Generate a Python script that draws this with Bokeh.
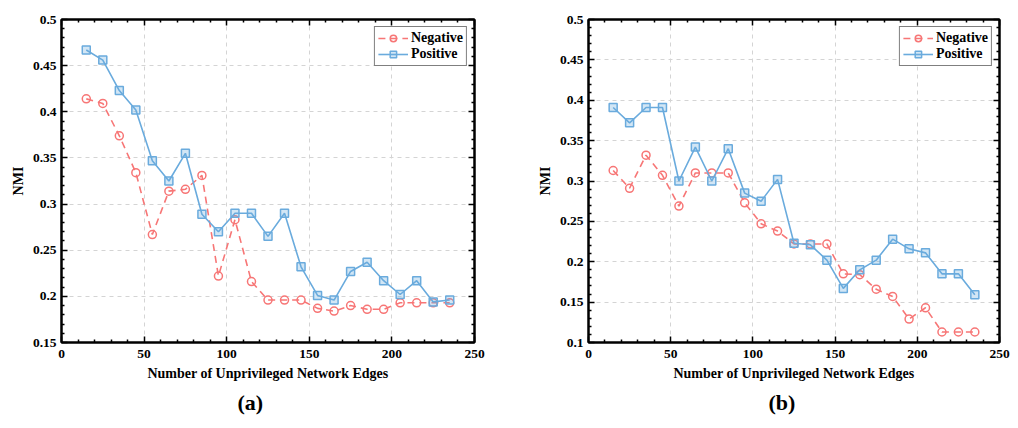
from bokeh.plotting import figure
from bokeh.layouts import row
from bokeh.models import (Range1d, FixedTicker, LinearAxis, CustomJSTickFormatter,
                          Legend, LegendItem, Title)
from bokeh.embed import file_html
from bokeh.resources import INLINE

edges = [15, 25, 35, 45, 55, 65, 75, 85, 95, 105, 115, 125, 135, 145, 155, 165,
         175, 185, 195, 205, 215, 225, 235]

neg_a = [0.414, 0.409, 0.374, 0.334, 0.267, 0.314, 0.316, 0.331, 0.222, 0.283, 0.216,
         0.196, 0.196, 0.196, 0.187, 0.184, 0.190, 0.186, 0.186, 0.193, 0.193, 0.193, 0.193]
pos_a = [0.467, 0.456, 0.423, 0.402, 0.347, 0.325, 0.355, 0.289, 0.270, 0.290, 0.290,
         0.265, 0.290, 0.232, 0.201, 0.196, 0.227, 0.237, 0.217, 0.202, 0.217, 0.194, 0.196]

neg_b = [0.313, 0.291, 0.332, 0.307, 0.269, 0.310, 0.310, 0.310, 0.273, 0.247, 0.238,
         0.222, 0.222, 0.222, 0.185, 0.184, 0.166, 0.157, 0.129, 0.143, 0.113, 0.113, 0.113]
pos_b = [0.391, 0.372, 0.391, 0.391, 0.300, 0.342, 0.300, 0.340, 0.285, 0.275, 0.302,
         0.223, 0.221, 0.202, 0.167, 0.190, 0.202, 0.228, 0.216, 0.211, 0.185, 0.185, 0.159]

x_ticks = [0, 50, 100, 150, 200, 250]
y_ticks_a = [0.15, 0.2, 0.25, 0.3, 0.35, 0.4, 0.45, 0.5]
y_ticks_b = [0.1, 0.15, 0.2, 0.25, 0.3, 0.35, 0.4, 0.45, 0.5]

NEG = "#F77676"
POS = "#6AABDD"
FONT = "'Liberation Serif', 'Times New Roman', 'DejaVu Serif', serif"


def make(neg, pos, yticks, caption, bl, br, bt, bb, width, cap_off):
    ymin, ymax = yticks[0], yticks[-1]
    p = figure(width=width, height=428, output_backend="svg", toolbar_location=None,
               x_range=Range1d(0, 250), y_range=Range1d(ymin, ymax),
               min_border_left=bl, min_border_right=br, min_border_top=bt,
               min_border_bottom=bb)
    p.background_fill_color = "white"
    p.border_fill_color = "white"
    p.outline_line_color = "black"
    p.outline_line_width = 2

    xminor = [v for v in range(0, 251, 10) if v % 50 != 0]
    ystep = 0.01
    n = int(round((ymax - ymin) / ystep))
    yminor = [round(ymin + i * ystep, 3) for i in range(n + 1)]
    yminor = [v for v in yminor if all(abs(v - t) > 1e-6 for t in yticks)]
    xt = FixedTicker(ticks=x_ticks, minor_ticks=xminor)
    yt = FixedTicker(ticks=yticks, minor_ticks=yminor)

    fmt = CustomJSTickFormatter(code="var s = tick.toFixed(2); if (s.endsWith('0')) { s = s.slice(0, -1); } if (s.endsWith('.0')) { s = s.slice(0, -2); } return s;")

    p.xaxis.ticker = xt
    p.yaxis.ticker = yt
    p.yaxis.formatter = fmt
    p.xaxis.axis_label = "Number of Unprivileged Network Edges"
    p.yaxis.axis_label = "NMI"
    for ax in (p.xaxis[0], p.yaxis[0]):
        ax.axis_line_width = 2
        ax.axis_line_color = "black"
        ax.major_tick_in = 6
        ax.major_tick_out = 0
        ax.minor_tick_in = 3
        ax.minor_tick_out = 0
        ax.major_tick_line_width = 1.5
        ax.minor_tick_line_width = 1.5
        ax.major_label_text_font = FONT
        ax.major_label_text_font_style = "bold"
        ax.major_label_text_font_size = "13.5px"
        ax.major_label_text_color = "black"
        ax.axis_label_text_font = FONT
        ax.axis_label_text_font_style = "bold"
        ax.axis_label_text_font_size = "14px"
        ax.axis_label_text_color = "black"
    p.xaxis.major_label_standoff = 7
    p.xaxis.axis_label_standoff = 5
    p.yaxis.major_label_standoff = 5
    p.yaxis.axis_label_standoff = 4

    for side, tk in (("above", xt), ("right", yt)):
        ax = LinearAxis(ticker=tk)
        ax.major_label_overrides = {t: "" for t in tk.ticks}
        ax.major_label_text_font_size = "0px"
        ax.major_label_standoff = 0
        ax.axis_line_width = 2
        ax.major_tick_in = 6
        ax.major_tick_out = 0
        ax.minor_tick_in = 3
        ax.minor_tick_out = 0
        ax.major_tick_line_width = 1.5
        ax.minor_tick_line_width = 1.5
        p.add_layout(ax, side)

    p.xgrid.ticker = xt
    p.ygrid.ticker = yt
    for g in (p.xgrid[0], p.ygrid[0]):
        g.grid_line_color = "#D4D4D4"
        g.grid_line_dash = "4 4"
        g.grid_line_width = 1

    nl = p.line(edges, neg, line_color=NEG, line_width=1.6, line_dash="7 5")
    ns = p.scatter(edges, neg, marker="circle", size=8, line_color=NEG, line_width=1.5,
                   fill_color=None)
    pl = p.line(edges, pos, line_color=POS, line_width=1.6)
    ps = p.scatter(edges, pos, marker="square", size=8, line_color=POS, line_width=1.5,
                   fill_color=POS, fill_alpha=0.3)

    leg = Legend(items=[LegendItem(label="Negative", renderers=[nl, ns]),
                        LegendItem(label="Positive", renderers=[pl, ps])],
                 location="top_right")
    leg.label_text_font = FONT
    leg.label_text_font_style = "bold"
    leg.label_text_font_size = "14px"
    leg.label_text_color = "black"
    leg.border_line_color = "black"
    leg.border_line_width = 1.5
    leg.background_fill_alpha = 1
    leg.padding = 3
    leg.spacing = 0
    leg.margin = 7
    leg.glyph_width = 30
    leg.glyph_height = 16
    leg.label_height = 16
    leg.label_standoff = 3
    p.add_layout(leg)

    t = Title(text=caption, align="left", offset=cap_off, text_font=FONT,
              text_font_style="bold", text_font_size="22px", text_color="black",
              standoff=8)
    p.add_layout(t, "below")
    return p


p1 = make(neg_a, pos_a, y_ticks_a, "(a)", 61, 35, 18, 84, 509, 176)
p2 = make(neg_b, pos_b, y_ticks_b, "(b)", 79, 19, 19, 86, 509, 180)

layout = row(p1, p2)
open("out.html", "w").write(file_html(layout, INLINE))
